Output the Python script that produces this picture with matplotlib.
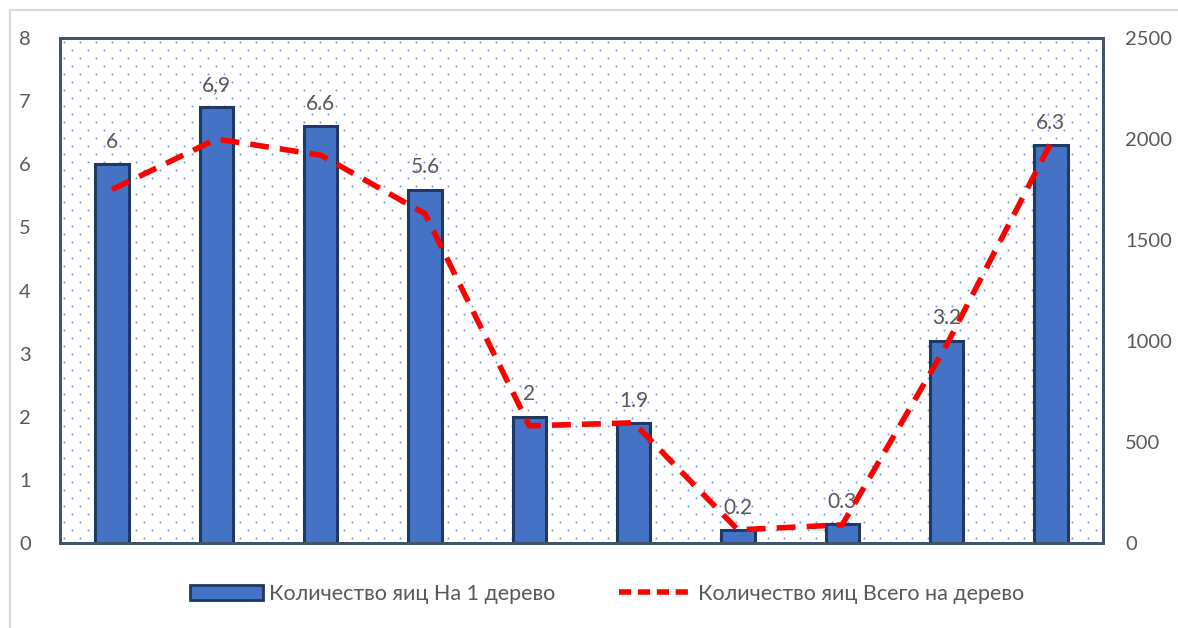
import numpy as np
import matplotlib
matplotlib.use("Agg")
import matplotlib.pyplot as plt
from matplotlib.patches import Rectangle, Patch
from matplotlib.lines import Line2D

plt.rcParams['font.family'] = ['Lato', 'DejaVu Sans']

# Data
categories = [1, 2, 3, 4, 5, 6, 7, 8, 9, 10]
eggs_per_tree = [6, 6.9, 6.6, 5.6, 2, 1.9, 0.2, 0.3, 3.2, 6.3]
eggs_total = [1750, 2000, 1920, 1630, 580, 595, 65, 90, 980, 1980]
label_texts = ["6", "6,9", "6.6", "5.6", "2", "1.9", "0.2", "0.3", "3.2", "6.3"]

bar_name = "Количество яиц На 1 дерево"
line_name = "Количество яиц Всего на дерево"

W, H, DPI = 1178, 628, 100
fig = plt.figure(figsize=(W / DPI, H / DPI), dpi=DPI)

# Light outer frame of the chart area
fig.patches.append(Rectangle((10 / W, -0.05), 1.2, 1 - 10 / H + 0.05,
                             transform=fig.transFigure, fill=False,
                             edgecolor="#D9D9D9", linewidth=1.5))

x0, x1 = 60, 1103
y0, y1 = 543, 38
ax = fig.add_axes([x0 / W, (H - y0) / H, (x1 - x0) / W, (y0 - y1) / H])
ax2 = ax.twinx()

x = np.arange(len(categories))

# Dotted background texture (staggered dot grid)
step_x, step_y = 16, 8
ncols = int((x1 - x0) / step_x) + 1
nrows = int((y0 - y1) / step_y) + 1
dx, dy = [], []
for r in range(nrows):
    off = 4 if r % 2 == 0 else 12
    for c in range(ncols):
        px = off + c * step_x
        py = 4 + r * step_y
        if px < (x1 - x0) - 2:
            dx.append(px / (x1 - x0))
            dy.append(1 - py / (y0 - y1))
ax.scatter(dx, dy, s=2.2, color="#7A9DDE", transform=ax.transAxes,
           linewidths=0, zorder=0.5, clip_on=True)

bars = ax.bar(x, eggs_per_tree, width=0.32, color="#4472C4",
              edgecolor="#203864", linewidth=2.2, zorder=2)

for xi, v, t in zip(x, eggs_per_tree, label_texts):
    ax.annotate(t, (xi, v), xytext=(0, 9), textcoords="offset points",
                ha="center", va="bottom", fontsize=15, color="#595959", zorder=5)

ax.set_xlim(-0.5, len(categories) - 0.5)
ax.set_ylim(0, 8)
ax.set_yticks(range(0, 9))
ax.set_xticks([])

ax2.plot(x, eggs_total, color="#FF0000", linewidth=4, linestyle=(0, (3.4, 2)),
         zorder=4)
ax2.set_ylim(0, 2500)
ax2.set_yticks(range(0, 2501, 500))

ax.set_zorder(1)
ax2.set_zorder(2)
ax2.patch.set_visible(False)

for a in (ax, ax2):
    for s in a.spines.values():
        s.set_color("#44546A")
        s.set_linewidth(2)
    a.tick_params(length=0, labelsize=14.5, labelcolor="#595959")
ax.tick_params(axis="y", pad=21)
ax2.tick_params(axis="y", pad=16)

handles = [Patch(facecolor="#4472C4", edgecolor="#203864", linewidth=2),
           Line2D([0], [0], color="#FF0000", linewidth=4, linestyle=(0, (2.2, 1.2)))]
fig.legend(handles, [bar_name, line_name], loc="center",
           bbox_to_anchor=(607 / W, (H - 594) / H), ncol=2, frameon=False,
           fontsize=15.5, labelcolor="#595959", handlelength=3.4, handleheight=0.75,
           handletextpad=0.25, columnspacing=3.0)

fig.savefig("out.png", dpi=DPI)
